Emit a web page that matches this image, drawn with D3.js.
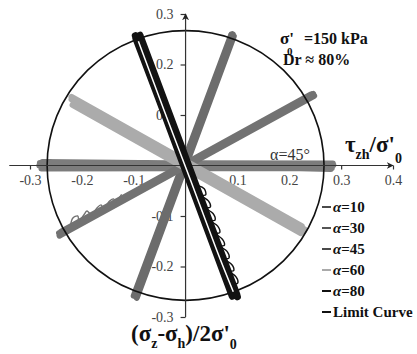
<!DOCTYPE html>
<html>
<head>
<meta charset="utf-8">
<script src="https://cdnjs.cloudflare.com/ajax/libs/d3/7.8.5/d3.min.js"></script>
<style>
body { margin: 0; background: #fff; }
svg { display: block; }
svg text { font-family: 'Liberation Serif', 'Times New Roman', Tinos, 'DejaVu Serif', serif; }
</style>
</head>
<body>
<script>
// tick values
var xTicks = [-0.3, -0.2, -0.1, 0.1, 0.2, 0.3, 0.4];
var yTicks = [-0.3, -0.2, -0.1, 0.1, 0.2, 0.3];

// limit curve radius (in stress ratio units)
var limitRadius = 0.267;

// stress paths [tau_zh/s'0, (sz-sh)/2s'0] (back and forth cycles)
var alpha10 = [[-0.100, -0.258], [0.088, 0.259], [-0.094, -0.262], [0.093, 0.256],
	[-0.097, -0.252], [0.086, 0.252], [-0.092, -0.256], [0.091, 0.260]];
var alpha30 = [[-0.243, -0.139], [0.246, 0.142], [-0.240, -0.131], [0.243, 0.136],
	[-0.238, -0.136], [0.248, 0.138], [-0.244, -0.134], [0.242, 0.141]];
var alpha30Loops = [[-0.222, -0.120], [-0.218, -0.105], [-0.208, -0.100], [-0.205, -0.110],
	[-0.195, -0.096], [-0.190, -0.090], [-0.181, -0.097], [-0.170, -0.083], [-0.163, -0.078],
	[-0.158, -0.084], [-0.146, -0.070], [-0.139, -0.066], [-0.134, -0.071], [-0.124, -0.058]];
var alpha45 = [[-0.281, 0.005], [0.284, 0.004], [-0.278, -0.006], [0.282, -0.005],
	[-0.282, 0.000], [0.285, 0.001], [-0.276, 0.007], [0.280, -0.007]];
var alpha60 = [[-0.220, 0.136], [0.224, -0.120], [-0.216, 0.128], [0.228, -0.130],
	[-0.218, 0.120], [0.222, -0.134], [-0.220, 0.131], [0.226, -0.124],
	[-0.214, 0.124], [0.230, -0.127]];
var alpha80 = [[-0.097, 0.257], [0.090, -0.259], [-0.087, 0.255], [0.100, -0.260],
	[-0.096, 0.252], [0.091, -0.255], [-0.088, 0.258], [0.099, -0.256]];
var alpha80Loops = [[0.024, -0.040], [0.036, -0.046], [0.039, -0.058], [0.031, -0.060],
	[0.044, -0.070], [0.048, -0.082], [0.040, -0.085], [0.053, -0.095], [0.057, -0.108],
	[0.049, -0.110], [0.062, -0.120], [0.066, -0.133], [0.058, -0.135], [0.071, -0.146],
	[0.075, -0.158], [0.067, -0.160], [0.080, -0.170], [0.084, -0.183], [0.076, -0.186],
	[0.089, -0.196], [0.093, -0.208], [0.085, -0.210], [0.097, -0.220], [0.101, -0.232],
	[0.094, -0.235]];
var alpha80Mid = [[-0.091, 0.246], [-0.041, 0.108], [0.010, -0.030], [0.059, -0.165], [0.092, -0.250]];

// legend
var legendNames = ['10', '30', '45', '60', '80', 'Limit Curve'];
var legendColors = ['#4a4a4a', '#555', '#4a4a4a', '#aaa', '#111', '#111'];

var width = 417, height = 354;
var serif = "'Liberation Serif', 'Times New Roman', Tinos, 'DejaVu Serif', serif";

var svg = d3.select('body').append('svg')
	.attr('width', width)
	.attr('height', height)
	.attr('font-family', serif);

var x = d3.scaleLinear().domain([-0.3, 0.4]).range([30, 393]);
var y = d3.scaleLinear().domain([-0.3, 0.3]).range([317, 14]);

var fmt = function(d) { return d3.format('.1f')(d).replace('\u2212', '-'); };

// tick marks + labels (sit under the paths)
var gx = svg.append('g')
	.attr('transform', 'translate(0,' + y(0) + ')')
	.call(d3.axisBottom(x).tickValues(xTicks).tickSize(4).tickPadding(6).tickFormat(fmt));
var gy = svg.append('g')
	.attr('transform', 'translate(' + x(0) + ',0)')
	.call(d3.axisLeft(y).tickValues(yTicks).tickSize(5).tickPadding(7).tickFormat(fmt));
[gx, gy].forEach(function(g) {
	g.attr('font-family', serif).attr('font-size', 14);
	g.select('.domain').remove();
	g.selectAll('.tick line').attr('stroke', '#333').attr('stroke-width', 1.2);
	g.selectAll('.tick text').attr('fill', '#444');
});

var line = d3.line()
	.x(function(d) { return x(d[0]); })
	.y(function(d) { return y(d[1]); });
var loopLine = d3.line()
	.x(function(d) { return x(d[0]); })
	.y(function(d) { return y(d[1]); })
	.curve(d3.curveCardinal);

function drawPath(data, color, w, gen) {
	svg.append('path')
		.datum(data)
		.attr('d', gen || line)
		.attr('fill', 'none')
		.attr('stroke', color)
		.attr('stroke-width', w)
		.attr('stroke-linejoin', 'round')
		.attr('stroke-linecap', 'round');
}

// gray stress paths
drawPath(alpha45, '#7c7c7c', 6);
drawPath(alpha10, '#6c6c6c', 6);
drawPath(alpha30, '#727272', 6);
drawPath(alpha30Loops, '#727272', 1.4, loopLine);
drawPath(alpha60, '#ababab', 6);

// limit curve
svg.append('ellipse')
	.attr('cx', x(0))
	.attr('cy', y(0))
	.attr('rx', x(limitRadius) - x(0))
	.attr('ry', y(0) - y(limitRadius))
	.attr('fill', 'none')
	.attr('stroke', '#111')
	.attr('stroke-width', 1.6);

// axis lines with arrows
svg.append('defs').append('marker')
	.attr('id', 'arr')
	.attr('viewBox', '0 0 10 10')
	.attr('refX', 9).attr('refY', 5)
	.attr('markerWidth', 7).attr('markerHeight', 7)
	.attr('markerUnits', 'userSpaceOnUse')
	.attr('orient', 'auto')
	.append('path')
	.attr('d', 'M0,0L10,5L0,10L3,5Z')
	.attr('fill', '#222');

svg.append('line')
	.attr('x1', x(-0.34)).attr('x2', x(0.4))
	.attr('y1', y(0)).attr('y2', y(0))
	.attr('stroke', '#333').attr('stroke-width', 1.2)
	.attr('marker-end', 'url(#arr)');
svg.append('line')
	.attr('x1', x(0)).attr('x2', x(0))
	.attr('y1', y(-0.3)).attr('y2', y(0.3))
	.attr('stroke', '#333').attr('stroke-width', 1.2)
	.attr('marker-end', 'url(#arr)');

// black path on top
drawPath(alpha80, '#121212', 7);
drawPath(alpha80Loops, '#121212', 1.4, loopLine);
svg.append('path')
	.datum(alpha80Mid)
	.attr('d', loopLine)
	.attr('fill', 'none')
	.attr('stroke', '#fff')
	.attr('stroke-width', 1.5);

// annotations
var note = svg.append('g').attr('font-weight', 'bold').attr('fill', '#111');
var n1 = note.append('text').attr('x', 280).attr('y', 44).attr('font-size', 17);
n1.append('tspan').text('\u03c3\'');
n1.append('tspan').attr('x', 287).attr('dy', 11).attr('font-size', 11).text('0');
n1.append('tspan').attr('x', 304).attr('dy', -11).attr('font-size', 16).text('=150 kPa');
note.append('text').attr('x', 283).attr('y', 65).attr('font-size', 16).text('Dr \u2248 80%');

svg.append('text')
	.attr('x', 270).attr('y', 160)
	.attr('fill', '#333')
	.attr('font-size', 16)
	.text('\u03b1=45\u00b0');

// axis titles
var tx = svg.append('text')
	.attr('x', 345).attr('y', 152)
	.attr('font-weight', 'bold').attr('fill', '#111')
	.attr('font-size', 23);
tx.append('tspan').text('\u03c4');
tx.append('tspan').attr('dy', 7).attr('font-size', 14).text('zh');
tx.append('tspan').attr('dy', -7).text('/\u03c3\'');
tx.append('tspan').attr('dy', 11).attr('font-size', 14).text('0');

var ty = svg.append('text')
	.attr('x', 131).attr('y', 341)
	.attr('font-weight', 'bold').attr('fill', '#111')
	.attr('font-size', 23);
ty.append('tspan').text('(\u03c3');
ty.append('tspan').attr('dy', 7).attr('font-size', 14).text('z');
ty.append('tspan').attr('dy', -7).text('-\u03c3');
ty.append('tspan').attr('dy', 7).attr('font-size', 14).text('h');
ty.append('tspan').attr('dy', -7).text(')/2\u03c3\'');
ty.append('tspan').attr('dy', 8).attr('font-size', 14).text('0');

// legend
var leg = svg.append('g')
	.selectAll('g')
	.data(legendNames)
	.enter().append('g')
	.attr('transform', function(d, i) { return 'translate(322,' + (212 + i * 21) + ')'; });
leg.append('line')
	.attr('x1', 0).attr('x2', 9)
	.attr('y1', -5).attr('y2', -5)
	.attr('stroke', function(d, i) { return legendColors[i]; })
	.attr('stroke-width', 2);
var lt = leg.append('text')
	.attr('x', 11)
	.attr('font-weight', 'bold').attr('fill', '#111')
	.attr('font-size', 15);
lt.each(function(d) {
	var t = d3.select(this);
	if (d == 'Limit Curve') {
		t.text(d);
	} else {
		t.append('tspan').attr('font-style', 'italic').text('\u03b1');
		t.append('tspan').text('=' + d);
	}
});
</script>
</body>
</html>
